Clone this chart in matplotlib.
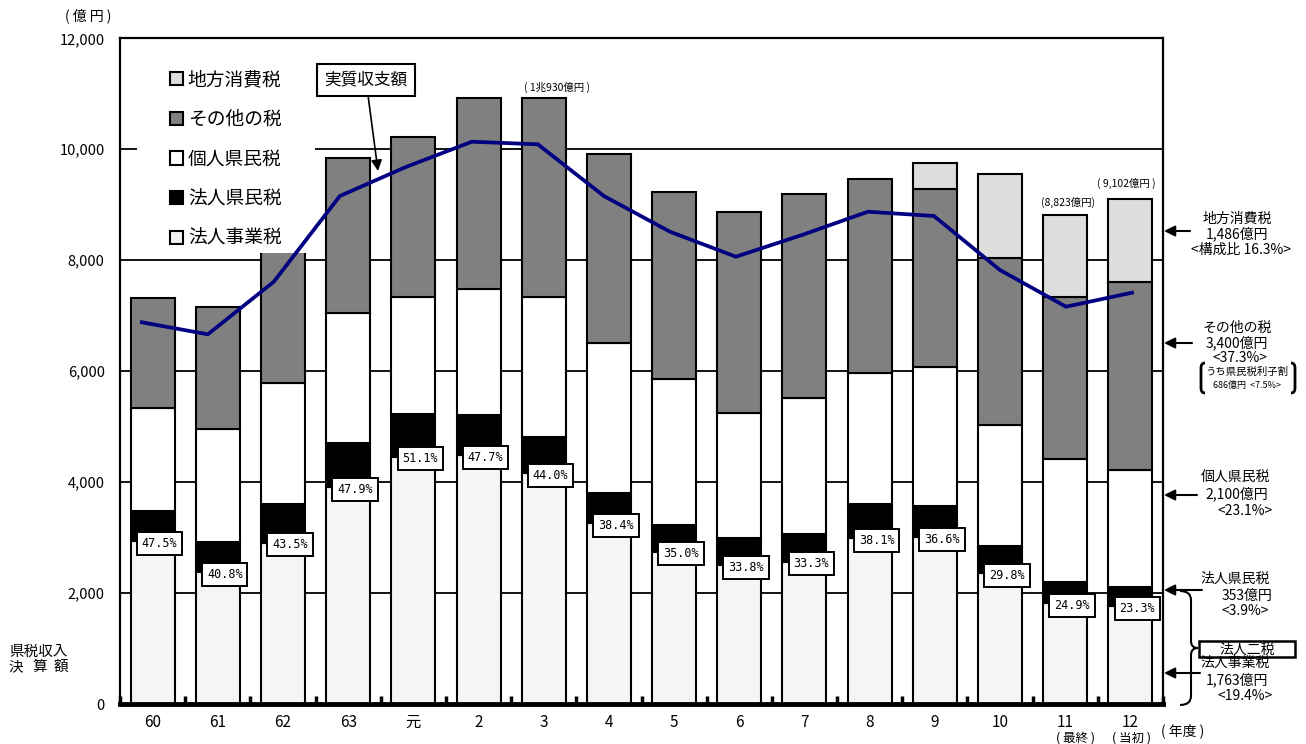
import matplotlib
matplotlib.use("Agg")
import matplotlib.pyplot as plt
from matplotlib.patches import Rectangle, PathPatch, FancyArrowPatch
from matplotlib.path import Path
import numpy as np

plt.rcParams['font.family'] = ['Noto Sans CJK JP', 'DejaVu Sans']

# 年度
years = ["60", "61", "62", "63", "元", "2", "3", "4", "5", "6", "7", "8", "9", "10", "11", "12"]
# 税目別 県税収入（億円）
houjin_jigyo = [2938, 2379, 2911, 3912, 4458, 4488, 4159, 3257, 2745, 2506, 2567, 2987, 3005, 2356, 1813, 1763]
houjin_kenmin = [536, 543, 689, 800, 768, 720, 650, 548, 483, 490, 493, 619, 566, 489, 384, 353]
kojin_kenmin = [1856, 2035, 2181, 2342, 2116, 2273, 2533, 2708, 2636, 2255, 2451, 2355, 2498, 2184, 2219, 2100]
sonota = [1983, 2205, 2495, 2783, 2884, 3437, 3588, 3396, 3360, 3612, 3677, 3503, 3214, 3005, 2926, 3400]
chiho_shohi = [0] * 12 + [475, 1514, 1481, 1486]
# 実質収支額（億円）
jisshitsu = [6881, 6664, 7612, 9157, 9680, 10136, 10089, 9157, 8514, 8063, 8454, 8874, 8797, 7823, 7162, 7414]
# うち県民税利子割（12年度）
rishiwari = 686

W, H = 1306, 744


def fx(x):
    return x / W


def fy(y):
    return 1 - y / H


def fp(x, y):
    return (fx(x), fy(y))


fig = plt.figure(figsize=(W / 100, H / 100), dpi=100)
ax = fig.add_axes([fx(120), fy(704), (1163 - 120) / W, (704 - 38.3) / H])

n = len(years)
x = np.arange(n)
ent = np.array(houjin_jigyo)
pref = np.array(houjin_kenmin)
pers = np.array(kojin_kenmin)
oth = np.array(sonota)
cons = np.array(chiho_shohi)
total = ent + pref + pers + oth + cons

bw = 0.675
blw = 1.5
b_ent = ax.bar(x, ent, bw, color='#f5f5f5', edgecolor='black', linewidth=blw, zorder=2)
b_pref = ax.bar(x, pref, bw, bottom=ent, color='black', edgecolor='black', linewidth=blw, zorder=2)
b_pers = ax.bar(x, pers, bw, bottom=ent + pref, color='white', edgecolor='black', linewidth=blw, zorder=2)
b_oth = ax.bar(x, oth, bw, bottom=ent + pref + pers, color='#808080', edgecolor='black', linewidth=blw, zorder=2)
has_cons = cons > 0
b_cons = ax.bar(x[has_cons], cons[has_cons], bw, bottom=(ent + pref + pers + oth)[has_cons],
                color='#dddddd', edgecolor='black', linewidth=blw, zorder=2)

ax.set_xlim(-0.5, n - 0.5)
ax.set_ylim(0, 12000)
ax.set_yticks(range(0, 12001, 2000))
ax.set_yticklabels([f"{v:,}" for v in range(0, 12001, 2000)], fontsize=10.5)
ax.tick_params(axis='y', length=0, pad=11)
ax.yaxis.grid(True, color='black', linewidth=1.3)
ax.set_axisbelow(True)

ax.set_xticks(x)
ax.set_xticklabels(years, fontsize=11)
ax.tick_params(axis='x', which='major', length=0, pad=7)
ax.set_xticks(np.arange(-0.5, n, 1.0), minor=True)
ax.tick_params(axis='x', which='minor', direction='in', length=6, width=2.5, color='black')

for s in ['left', 'right', 'top']:
    ax.spines[s].set_linewidth(1.6)
ax.spines['bottom'].set_linewidth(3.5)

# 法人二税の構成比（法人事業税・法人県民税の構成比の和）
for i in range(n):
    pct = round(100 * ent[i] / total[i], 1) + round(100 * pref[i] / total[i], 1)
    ax.annotate(f"{pct:.1f}%", xy=(x[i], ent[i]), xytext=(5, -1.5), textcoords='offset points',
                ha='center', va='center', fontsize=8.5, family='DejaVu Sans Mono', zorder=4,
                bbox=dict(boxstyle='square,pad=0.42', fc='white', ec='black', lw=1.4))


def oku(v):
    v = int(v)
    if v >= 10000:
        return f"{v // 10000}兆{v % 10000}億円"
    return f"{v:,}億円"


# 総額の注記
total_notes = {6: ("( {} )", (13, 10)), 14: ("({})", (3, 12)), 15: ("( {} )", (-4, 16))}
for i, (fmt, off) in total_notes.items():
    ax.annotate(fmt.format(oku(total[i])), xy=(x[i], total[i]), xytext=off, textcoords='offset pixels',
                ha='center', va='center', fontsize=7.5)

# 実質収支額の折れ線（独自の横軸）
ax2 = ax.twiny()
ax2.set_xlim(-0.33, 15.47)
ax2.set_ylim(0, 12000)
ax2.axis('off')
ax2.plot(np.arange(n), jisshitsu, color='#000080', linewidth=2.7, zorder=6, solid_joinstyle='miter')

# 凡例
ax2.add_patch(Rectangle(fp(137, 253), (315 - 137) / W, (253 - 55) / H, transform=fig.transFigure,
                        facecolor='white', edgecolor='none', zorder=4))
leg = ax2.legend([b_cons, b_oth, b_pers, b_pref, b_ent],
                 ["地方消費税", "その他の税", "個人県民税", "法人県民税", "法人事業税"],
                 loc='upper left', bbox_to_anchor=fp(170, 69), bbox_transform=fig.transFigure,
                 frameon=False, fontsize=13.5, labelspacing=1.0, handlelength=0.7, handleheight=0.7,
                 handletextpad=0.25, borderpad=0, borderaxespad=0)
leg.set_zorder(5)

ax2.annotate("実質収支額", xy=fp(378, 171), xycoords='figure fraction',
             xytext=fp(366, 80), textcoords='figure fraction', ha='center', va='center', fontsize=12,
             bbox=dict(boxstyle='square,pad=0.45', fc='white', ec='black', lw=1.5),
             arrowprops=dict(arrowstyle='-|>', color='black', lw=1.2, mutation_scale=16,
                             shrinkA=0, shrinkB=0), zorder=7)

# 軸ラベル類
fig.text(fx(88), fy(16), "( 億 円 )", ha='center', va='center', fontsize=10)
fig.text(fx(9), fy(652), "県税収入", ha='left', va='center', fontsize=10.5)
for ch, cx in zip("決算額", [16, 40, 61]):
    fig.text(fx(cx), fy(667), ch, ha='center', va='center', fontsize=10.5)
fig.text(fx(1075), fy(738.5), "( 最終 )", ha='center', va='center', fontsize=9)
fig.text(fx(1131), fy(738.5), "( 当初 )", ha='center', va='center', fontsize=9)
fig.text(fx(1183), fy(731), "( 年度 )", ha='center', va='center', fontsize=10)

# 12年度当初の内訳
k = n - 1
tk = total[k]
p_cons = round(100 * cons[k] / tk, 1)
p_pers = round(100 * pers[k] / tk, 1)
p_pref = round(100 * pref[k] / tk, 1)
p_ent = round(100 * ent[k] / tk, 1)
p_oth = round(100 - p_cons - p_pers - p_pref - p_ent, 1)
p_ri = round(100 * rishiwari / tk, 1)

notes = [
    (231, 1190, [("地方消費税", 1237, 219), (oku(cons[k]), 1237, 234), (f"<構成比 {p_cons}%>", 1241, 250)]),
    (343, 1192, [("その他の税", 1237, 328), (oku(oth[k]), 1237, 343), (f"<{p_oth}%>", 1240, 358)]),
    (495, 1197, [("個人県民税", 1235, 478), (oku(pers[k]), 1237, 494), (f"<{p_pers}%>", 1245, 511)]),
    (590, 1202, [("法人県民税", 1235, 579), (oku(pref[k]), 1247, 596), (f"<{p_pref}%>", 1245, 611)]),
    (673, 1200, [("法人事業税", 1235, 663), (oku(ent[k]), 1237, 680), (f"<{p_ent}%>", 1245, 696)]),
]
for ty, tail, lines in notes:
    fig.add_artist(FancyArrowPatch(fp(tail, ty), fp(1164, ty), transform=fig.transFigure,
                                   arrowstyle='-|>', mutation_scale=16, lw=1.5,
                                   color='black', shrinkA=0, shrinkB=0))
    for s, cx, cy in lines:
        fig.text(fx(cx), fy(cy), s, ha='center', va='center', fontsize=10)

fig.text(fx(1247), fy(372), "うち県民税利子割", ha='center', va='center', fontsize=7.5)
fig.text(fx(1247), fy(385), f"{oku(rishiwari)}  <{p_ri}%>", ha='center', va='center', fontsize=6.5)


def pix_path(pts, codes):
    return Path([fp(px, py) for px, py in pts], codes)


C3 = Path.CURVE3
for side in (-1, 1):
    xo = 1201 if side < 0 else 1295
    xi = xo - side * 4
    p = pix_path([(xi, 363), (xo, 363), (xo, 368), (xo, 388), (xo, 393), (xi, 393)],
                 [Path.MOVETO, C3, C3, Path.LINETO, C3, C3])
    fig.add_artist(PathPatch(p, transform=fig.transFigure, fill=False, lw=2, edgecolor='black'))

brace = pix_path([(1180, 591), (1191, 591), (1191, 600), (1191, 641), (1191, 648), (1198, 648),
                  (1191, 648), (1191, 655), (1191, 696), (1191, 705), (1180, 705)],
                 [Path.MOVETO, C3, C3, Path.LINETO, C3, C3, C3, C3, Path.LINETO, C3, C3])
fig.add_artist(PathPatch(brace, transform=fig.transFigure, fill=False, lw=1.5, edgecolor='black'))

fig.add_artist(Rectangle(fp(1199, 657), 96 / W, 16 / H, transform=fig.transFigure,
                         facecolor='white', edgecolor='black', lw=1.8))
fig.text(fx(1247), fy(650), "法人二税", ha='center', va='center', fontsize=10)

fig.savefig("out.png", dpi=100)
